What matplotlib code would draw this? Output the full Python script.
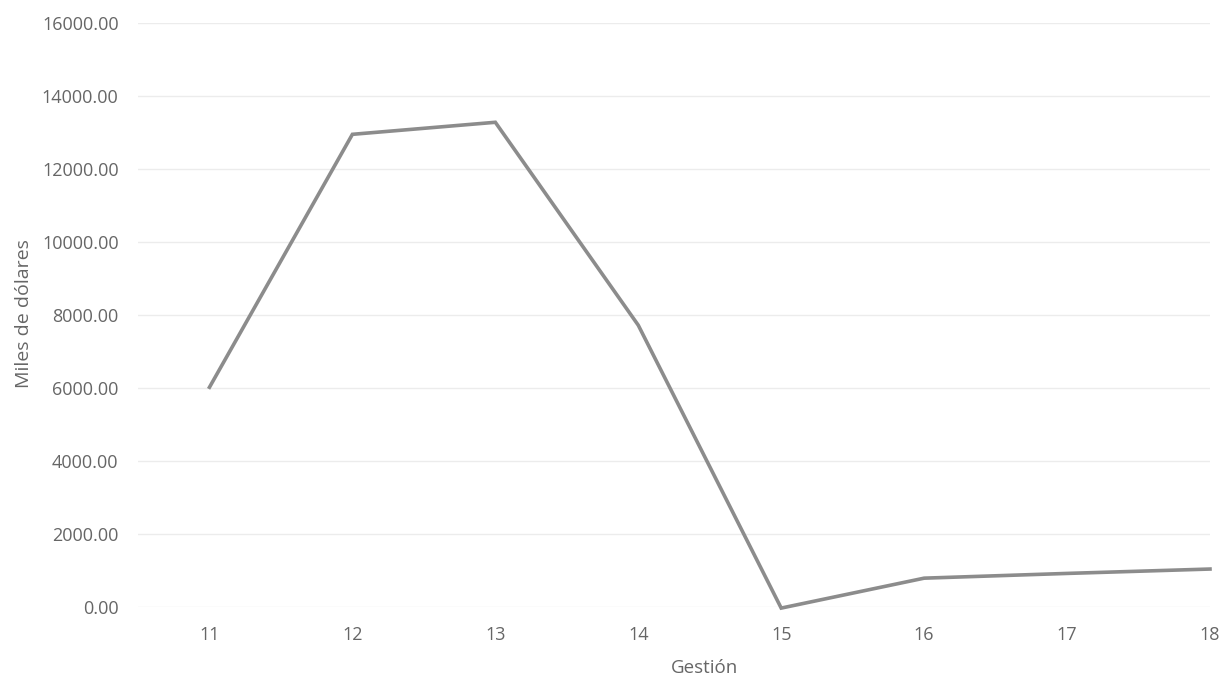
import matplotlib
matplotlib.use('Agg')
import matplotlib.pyplot as plt

plt.rcParams['font.family'] = ['Open Sans', 'DejaVu Sans']

# datos
gestion = [11, 12, 13, 14, 15, 16, 17, 18]
miles_usd = [6020, 12950, 13280, 7720, -30, 790, 920, 1040]
yticks = [0, 2000, 4000, 6000, 8000, 10000, 12000, 14000, 16000]

gris_texto = '#666666'

fig = plt.figure(figsize=(12.19, 6.79), dpi=100)
ax = fig.add_axes([138/1219, 1 - 607/679, (1210 - 138)/1219, (607 - 23)/679])

ax.plot(gestion, miles_usd, color='#8c8c8c', linewidth=2.6, clip_on=False,
        solid_joinstyle='miter')

ax.set_xlim(10.5, 18.0)
ax.set_ylim(0, 16000)
ax.set_xticks(gestion)
ax.set_yticks(yticks)
ax.set_yticklabels([f'{v:.2f}' for v in yticks])
ax.tick_params(axis='both', length=0, labelsize=13, labelcolor=gris_texto)
ax.tick_params(axis='y', pad=14)
ax.tick_params(axis='x', pad=14)

ax.grid(True, axis='y', color='#ececec', linewidth=1)
ax.set_axisbelow(True)
for s in ax.spines.values():
    s.set_visible(False)

fig.text(705/1219, 1 - 668/679, 'Gestión', fontsize=13.5, color=gris_texto,
         ha='center', va='center')
fig.text(24/1219, 1 - 314/679, 'Miles de dólares', rotation=90, fontsize=14,
         color=gris_texto, ha='center', va='center')

fig.savefig('out.png', dpi=100, facecolor='white')
plt.close(fig)
